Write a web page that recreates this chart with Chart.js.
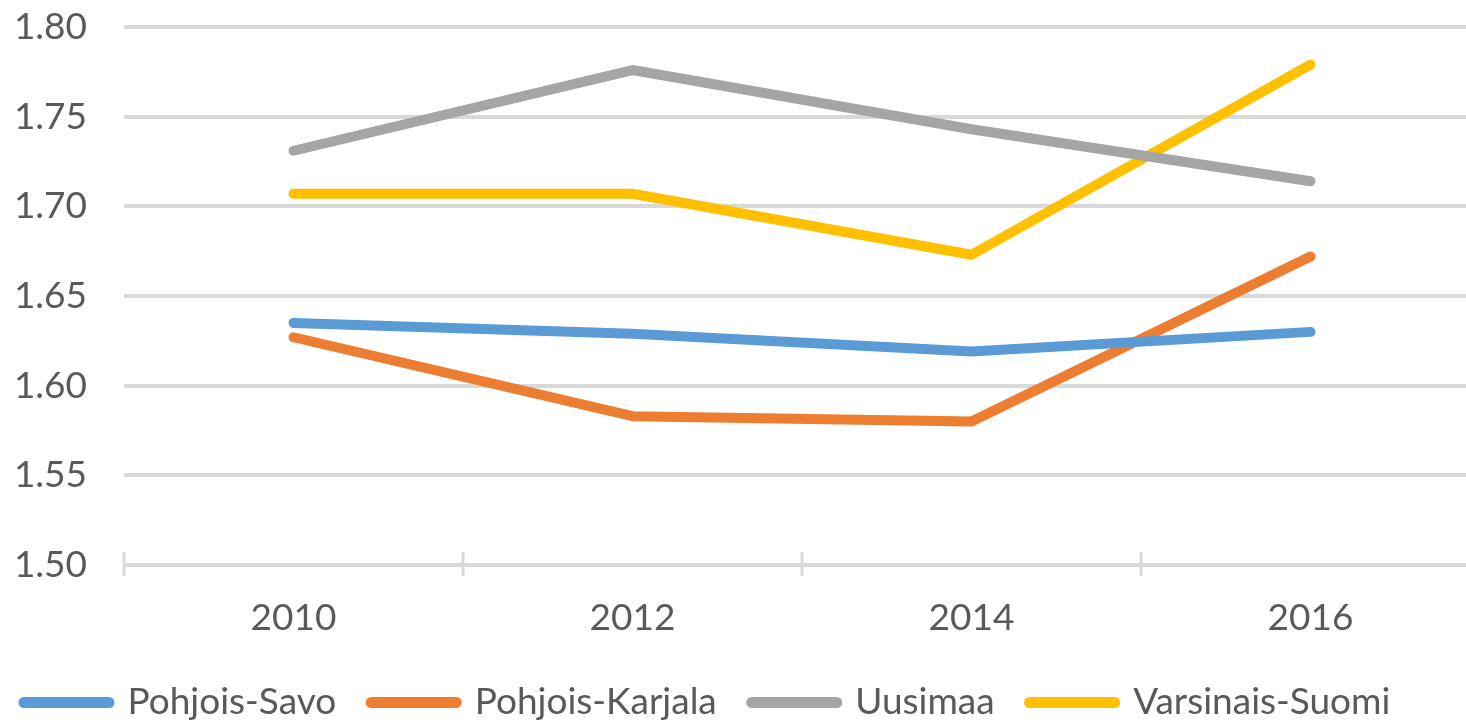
<!DOCTYPE html>
<html>
<head>
<meta charset="utf-8">
<script src="https://cdn.jsdelivr.net/npm/chart.js@4/dist/chart.umd.min.js"></script>
<style>
  html, body { margin: 0; padding: 0; overflow: hidden; background: #fff; }
  #wrap { position: relative; width: 1480px; height: 731px; }
</style>
</head>
<body>
<div id="wrap"><canvas id="c"></canvas></div>
<script>
const years = ['2010', '2012', '2014', '2016'];
const pohjoisSavo = [1.635, 1.629, 1.619, 1.630];
const pohjoisKarjala = [1.627, 1.583, 1.580, 1.672];
const uusimaa = [1.731, 1.776, 1.743, 1.714];
const varsinaisSuomi = [1.707, 1.707, 1.673, 1.779];
const seriesNames = ['Pohjois-Savo', 'Pohjois-Karjala', 'Uusimaa', 'Varsinais-Suomi'];
const seriesColors = ['#5B9BD5', '#ED7D31', '#A5A5A5', '#FFC000'];
const yTicks = [1.50, 1.55, 1.60, 1.65, 1.70, 1.75, 1.80];

const FONT = 'Lato';
const TEXT = '#595959';
const GRID = '#D9D9D9';

const tickMarks = {
  id: 'tickMarks',
  afterLayout(chart) {
    if (chart.legend) { chart.legend.left -= 11; }
  },
  afterDraw(chart) {
    const x = chart.scales.x, y = chart.scales.y;
    const ctx = chart.ctx;
    const base = y.getPixelForValue(yTicks[0]);
    ctx.save();
    ctx.strokeStyle = GRID;
    ctx.lineWidth = 3;
    for (let i = 0; i <= years.length; i++) {
      const px = x.getPixelForValue(i - 0.5);
      ctx.beginPath();
      ctx.moveTo(px, base - 13);
      ctx.lineTo(px, base + 11);
      ctx.stroke();
    }
    ctx.restore();
  }
};

const dataSets = [pohjoisSavo, pohjoisKarjala, uusimaa, varsinaisSuomi].map((d, i) => ({
  label: seriesNames[i],
  data: d,
  borderColor: seriesColors[i],
  backgroundColor: seriesColors[i],
  borderWidth: 10,
  borderCapStyle: 'round',
  borderJoinStyle: 'round',
  pointRadius: 0,
  tension: 0
}));

new Chart(document.getElementById('c'), {
  type: 'line',
  data: { labels: years, datasets: dataSets },
  plugins: [tickMarks],
  options: {
    responsive: true,
    maintainAspectRatio: false,
    animation: false,
    layout: { padding: { top: 27, left: 0, right: 0, bottom: 0 } },
    plugins: {
      tooltip: { enabled: false },
      legend: {
        position: 'bottom',
        align: 'start',
        labels: {
          color: TEXT,
          font: { family: FONT, size: 37 },
          usePointStyle: true,
          pointStyle: 'line',
          pointStyleWidth: 85,
          boxHeight: 11,
          padding: 35,
          generateLabels(chart) {
            return chart.data.datasets.map((ds, i) => ({
              text: ds.label,
              fillStyle: ds.borderColor,
              strokeStyle: ds.borderColor,
              lineWidth: 11,
              lineCap: 'round',
              pointStyle: 'line',
              fontColor: TEXT,
              datasetIndex: i,
              hidden: false
            }));
          }
        }
      }
    },
    scales: {
      x: {
        offset: true,
        grid: { display: false },
        border: { display: false },
        ticks: { color: TEXT, font: { family: FONT, size: 37 }, padding: 23 },
        afterFit(s) { s.height = 84; }
      },
      y: {
        min: 1.50,
        max: 1.80,
        afterBuildTicks(s) { s.ticks = yTicks.map(v => ({ value: v })); },
        grid: { color: GRID, lineWidth: 4, drawTicks: false },
        border: { display: false },
        ticks: {
          color: TEXT,
          font: { family: FONT, size: 37 },
          padding: 37,
          callback: v => Number(v).toFixed(2)
        },
        afterFit(s) { s.width = 124; s.paddingTop = 0; s.paddingBottom = 0; }
      }
    }
  }
});
</script>
</body>
</html>
